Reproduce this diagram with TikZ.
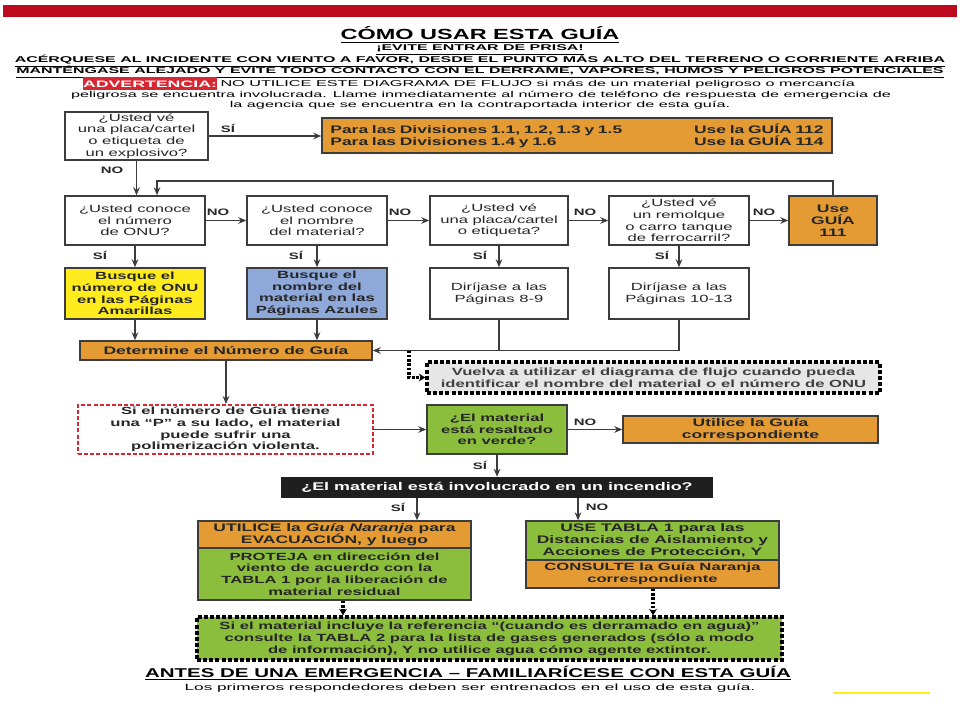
\documentclass[tikz,border=0pt]{standalone}
\usepackage{fontspec}
\setmainfont{Liberation Sans}[FakeStretch=1.6]
\newfontfamily\widefont{Liberation Sans}[FakeStretch=1.9]
\usetikzlibrary{arrows.meta}

\definecolor{guiared}{RGB}{190,10,30}
\definecolor{advred}{RGB}{215,40,50}
\definecolor{guiaorange}{RGB}{228,155,52}
\definecolor{guiayellow}{RGB}{255,235,30}
\definecolor{guiablue}{RGB}{142,168,218}
\definecolor{guiagreen}{RGB}{140,190,62}
\definecolor{guiagray}{RGB}{230,230,230}
\definecolor{linegray}{RGB}{60,60,60}

\tikzset{
  wh/.style 2 args={minimum width=#1*0.75pt, minimum height=#2*0.75pt},
  box/.style={draw=linegray, line width=1.1pt, align=center, inner sep=1pt, text=black!85,
    font=\fontsize{7.8}{8.7}\selectfont},
  qbox/.style={box, fill=white},
  hbox/.style={box, font=\fontsize{7.8}{8.7}\selectfont\bfseries},
  dashbox/.style={hbox, draw=black, line width=2.4pt, dash pattern=on 3pt off 1.6pt},
  flow/.style={draw=linegray, line width=0.9pt, -{Stealth[length=6pt,width=5pt]}},
  dashflow/.style={draw=black, line width=2.4pt, dash pattern=on 2pt off 1.2pt,
    -{Stealth[length=5pt,width=6pt,line width=0pt]}},
  lbl/.style={inner sep=0pt, text=black!85, font=\fontsize{7}{8}\selectfont\bfseries},
  hdr/.style={inner sep=0pt, anchor=base, font=\widefont\fontsize{6.3}{7}\selectfont\bfseries},
  note/.style={inner sep=0pt, font=\widefont\fontsize{6.4}{7}\selectfont},
}

\begin{document}
\begin{tikzpicture}[x=0.75pt,y=0.75pt,yscale=-1,xscale=1]
  \useasboundingbox (0,0) rectangle (960,720);

  %Shape: red bar
  \fill[guiared] (3,5) rectangle (957,17);

  % Text Node: heading
  \node[inner sep=0pt, anchor=base, font=\fontsize{11}{12}\selectfont\bfseries] (title) at (480,40) {\underline{CÓMO USAR ESTA GUÍA}};
  \node[hdr] (evite) at (480,51) {\underline{¡EVITE ENTRAR DE PRISA!}};
  \node[hdr] (acerque) at (480,63) {\underline{ACÉRQUESE AL INCIDENTE CON VIENTO A FAVOR, DESDE EL PUNTO MÁS ALTO DEL TERRENO O CORRIENTE ARRIBA}};
  \node[hdr] (mantenga) at (480,74) {\underline{MANTÉNGASE ALEJADO Y EVITE TODO CONTACTO CON EL DERRAME, VAPORES, HUMOS Y PELIGROS POTENCIALES}};

  % Text Node: warning
  \node[fill=advred, text=white, wh={130}{13}, inner sep=0pt, font=\widefont\fontsize{7}{8}\selectfont\bfseries] (advert) at (150,84) {ADVERTENCIA:};
  \node[note, anchor=west] (warn1) at ([xshift=3*0.75pt]advert.east) {NO UTILICE ESTE DIAGRAMA DE FLUJO si más de un material peligroso o mercancía};
  \node[note] (warn2) at (481,95) {peligrosa se encuentra involucrada. Llame inmediatamente al número de teléfono de respuesta de emergencia de};
  \node[note] (warn3) at (480,105.5) {la agencia que se encuentra en la contraportada interior de esta guía.};

  % first question
  \node[qbox, wh={143}{48}] (explosive) at (136.5,136) {¿Usted vé\\una placa/cartel\\o etiqueta de\\un explosivo?};
  \node[hbox, fill=guiaorange, wh={510}{35}, text width=370pt, align=left, font=\fontsize{8.2}{9}\selectfont\bfseries] (divisions) at (577,135.5)
    {Para las Divisiones 1.1, 1.2, 1.3 y 1.5\hfill Use la GUÍA 112\\Para las Divisiones 1.4 y 1.6\hfill Use la GUÍA 114};
  \draw[flow] (explosive.east) -- (explosive.east -| divisions.west);
  \node[lbl] (si0) at (228,128) {SÍ};

  % second row
  \node[qbox, wh={140}{49}] (unknown) at (135,220.5) {¿Usted conoce\\el número\\de ONU?};
  \node[qbox, wh={140}{49}] (matname) at (317,220.5) {¿Usted conoce\\el nombre\\del material?};
  \node[qbox, wh={138}{49}] (placard) at (499,220.5) {¿Usted vé\\una placa/cartel\\o etiqueta?};
  \node[qbox, wh={140}{49}] (trailer) at (679,220.5) {¿Usted vé\\un remolque\\o carro tanque\\de ferrocarril?};
  \node[hbox, fill=guiaorange, wh={88}{49}, font=\fontsize{8.2}{9}\selectfont\bfseries] (guia111) at (833,220.5) {Use\\GUÍA\\111};

  \draw[flow] (explosive.south) -- (explosive.south |- unknown.north);
  \node[lbl] (no0) at (112,170) {NO};
  \coordinate (loop) at (157,181);
  \draw[flow] (guia111.north) |- (loop) -- (loop |- unknown.north);

  \draw[flow] (unknown.east) -- (matname.west);
  \draw[flow] (matname.east) -- (placard.west);
  \draw[flow] (placard.east) -- (trailer.west);
  \draw[flow] (trailer.east) -- (guia111.west);
  \node[lbl] (no1) at (218,212) {NO};
  \node[lbl] (no2) at (400,212) {NO};
  \node[lbl] (no3) at (585,212) {NO};
  \node[lbl] (no4) at (764,212) {NO};

  % third row
  \node[hbox, fill=guiayellow, wh={140}{51}] (yellow) at (135,293.5) {Busque el\\número de ONU\\en las Páginas\\Amarillas};
  \node[hbox, fill=guiablue, wh={140}{51}] (blue) at (317,293.5) {Busque el\\nombre del\\material en las\\Páginas Azules};
  \node[qbox, wh={138}{51}] (pages89) at (499,293.5) {Diríjase a las\\Páginas 8-9};
  \node[qbox, wh={140}{51}] (pages1013) at (679,293.5) {Diríjase a las\\Páginas 10-13};

  \draw[flow] (unknown) -- (yellow);
  \draw[flow] (matname) -- (blue);
  \draw[flow] (placard) -- (pages89);
  \draw[flow] (trailer) -- (pages1013);
  \node[lbl] (si1) at (100,255) {SÍ};
  \node[lbl] (si2) at (296,255) {SÍ};
  \node[lbl] (si3) at (480,255) {SÍ};
  \node[lbl] (si4) at (662,255) {SÍ};

  % guide number
  \node[hbox, fill=guiaorange, wh={292}{19}, font=\fontsize{8.2}{9}\selectfont\bfseries] (determine) at (226,350.5) {Determine el Número de Guía};
  \draw[flow] (yellow.south) -- (yellow.south |- determine.north);
  \draw[flow] (blue.south) -- (blue.south |- determine.north);
  \draw[flow] (pages89.south) |- (determine.east);
  \draw[draw=linegray, line width=0.9pt] (pages1013.south) |- (pages89.south |- determine.east);

  \node[dashbox, fill=guiagray, wh={453}{31}, text=black!75] (again) at (653.5,377.5) {Vuelva a utilizar el diagrama de flujo cuando pueda\\identificar el nombre del material o el número de ONU};
  \coordinate (back) at (409,350.5);
  \draw[dashflow] (back) |- (again.west);

  % polymerization and green check
  \node[dashbox, draw=advred, line width=1.5pt, fill=white, wh={295}{49}] (poly) at (225.5,429.5) {Si el número de Guía tiene\\una “P” a su lado, el material\\puede sufrir una\\polimerización violenta.};
  \draw[flow] (determine.south) -- (determine.south |- poly.north);
  \node[hbox, fill=guiagreen, wh={140}{49}] (green) at (497,429.5) {¿El material\\está resaltado\\en verde?};
  \draw[flow] (poly.east) -- (green.west);
  \node[hbox, fill=guiaorange, wh={255}{27}, font=\fontsize{8.2}{9}\selectfont\bfseries] (useguide) at (750.5,429.5) {Utilice la Guía\\correspondiente};
  \draw[flow] (green.east) -- (useguide.west);
  \node[lbl] (no5) at (585,422) {NO};

  % fire question
  \node[fill=black!88, text=white, wh={432}{21}, inner sep=0pt, font=\fontsize{8.4}{9}\selectfont\bfseries] (fire) at (497,487.5) {¿El material está involucrado en un incendio?};
  \draw[flow] (green.south) -- (green.south |- fire.north);
  \node[lbl] (si5) at (480,465) {SÍ};

  % left stack
  \node[hbox, fill=guiaorange, wh={273}{27}, font=\fontsize{8.2}{9}\selectfont\bfseries] (evac) at (334.5,534.5) {UTILICE la \textit{Guía Naranja} para\\EVACUACIÓN, y luego};
  \node[hbox, fill=guiagreen, wh={273}{52}] (protect) at (334.5,574) {PROTEJA en dirección del\\viento de acuerdo con la\\TABLA 1 por la liberación de\\material residual};
  % right stack
  \node[hbox, fill=guiagreen, wh={253}{39}, font=\fontsize{8.2}{9}\selectfont\bfseries] (table1) at (652.5,540.5) {USE TABLA 1 para las\\Distancias de Aislamiento y\\Acciones de Protección, Y};
  \node[hbox, fill=guiaorange, wh={253}{28}] (consult) at (652.5,574) {CONSULTE la Guía Naranja\\correspondiente};

  \coordinate (firesi) at (417,0);
  \coordinate (fireno) at (578,0);
  \draw[flow] (fire.south -| firesi) -- (evac.north -| firesi);
  \draw[flow] (fire.south -| fireno) -- (table1.north -| fireno);
  \node[lbl] (si6) at (398,507) {SÍ};
  \node[lbl] (no6) at (597,507) {NO};

  % water note
  \node[dashbox, fill=guiagreen, wh={585}{43}, font=\fontsize{7.8}{9}\selectfont\bfseries] (water) at (489.5,638.5) {Si el material incluye la referencia “(cuando es derramado en agua)”\\consulte la TABLA 2 para la lista de gases generados (sólo a modo\\de información), Y no utilice agua cómo agente extintor.};
  \coordinate (dotl) at (343,0);
  \coordinate (dotr) at (653,0);
  \draw[dashflow] (protect.south -| dotl) -- (water.north -| dotl);
  \draw[dashflow] (consult.south -| dotr) -- (water.north -| dotr);

  % Text Node: footer
  \node[inner sep=0pt, anchor=base, font=\fontsize{9.6}{11}\selectfont\bfseries] (before) at (468,677) {\underline{ANTES DE UNA EMERGENCIA – FAMILIARÍCESE CON ESTA GUÍA}};
  \node[note, font=\widefont\fontsize{6.8}{8}\selectfont] (trained) at (470,688) {Los primeros respondedores deben ser entrenados en el uso de esta guía.};

  \draw[guiayellow, line width=2pt] (833,693) -- (930,693);
\end{tikzpicture}
\end{document}
